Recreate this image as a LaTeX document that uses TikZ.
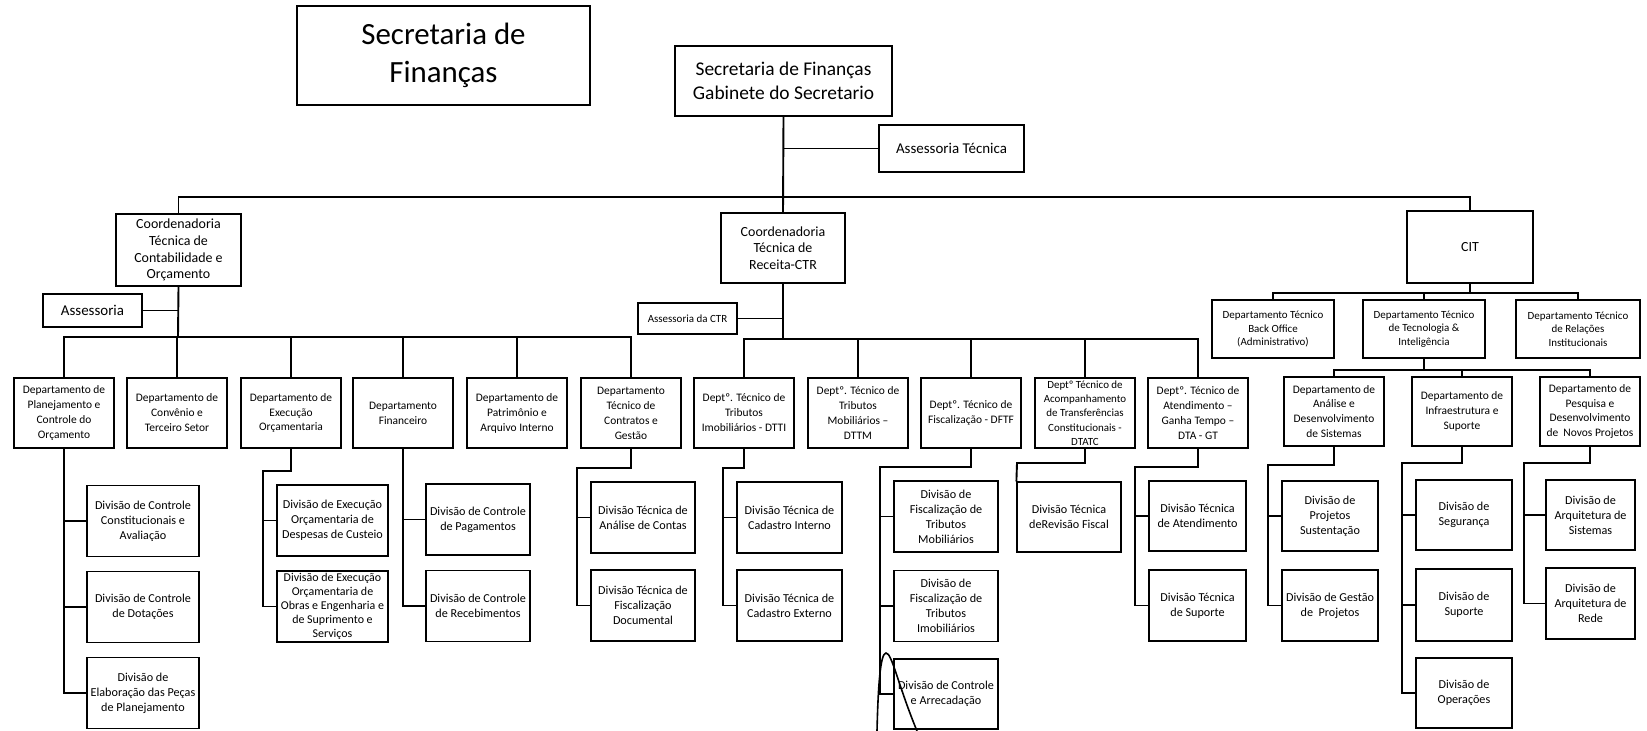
\documentclass[tikz,border=0pt]{standalone}
\usepackage{fontspec}
\setmainfont{Carlito}
\usepackage{tikz}

\begin{document}
\begin{tikzpicture}[x=1bp,y=-1bp,every text node part/.style={align=center},
box/.style={draw, fill=white, line width=1.2bp, inner sep=1bp},
coord/.style={box, font=\fontsize{14}{16.8}\selectfont},
dept/.style={box, minimum width=100bp, minimum height=70bp, font=\fontsize{11.5}{15}\selectfont},
cdept/.style={box, minimum width=122bp, minimum height=58bp, font=\fontsize{11}{13.5}\selectfont},
div/.style={box, minimum width=104bp, minimum height=71bp, font=\fontsize{12.2}{15}\selectfont},
link/.style={line width=1.9bp}]
\useasboundingbox (0,0) rectangle (1647,731);
\node[box, minimum width=293bp, minimum height=99bp, font=\fontsize{31}{38}\selectfont] (title) at (443.5,55.5) {Secretaria de\\Finanças};
\node[box, minimum width=217bp, minimum height=70bp, font=\fontsize{19.5}{23.5}\selectfont] (gab) at (783.5,81) {Secretaria de Finanças\\Gabinete do Secretario};
\node[box, minimum width=145bp, minimum height=47bp, font=\fontsize{15}{18}\selectfont] (asstec) at (951.5,148.5) {Assessoria Técnica};
\node[coord, minimum width=125bp, minimum height=72bp] (ctco) at (178.5,250) {Coordenadoria\\Técnica de\\Contabilidade e\\Orçamento};
\node[coord, minimum width=124bp, minimum height=70bp] (ctr) at (783,248) {Coordenadoria\\Técnica de\\Receita-CTR};
\node[coord, minimum width=126bp, minimum height=72bp] (cit) at (1470,247) {CIT};
\node[box, minimum width=99bp, minimum height=33bp, font=\fontsize{15}{18}\selectfont] (ass) at (92.5,310.5) {Assessoria};
\node[box, minimum width=99bp, minimum height=31bp, font=\fontsize{11}{13}\selectfont] (assctr) at (687.5,318.5) {Assessoria da CTR};
\node[dept] (d1) at (64,413) {Departamento de\\Planejamento e\\Controle do\\Orçamento};
\node[dept] (d2) at (177,413) {Departamento de\\Convênio e\\Terceiro Setor};
\node[dept] (d3) at (291,413) {Departamento de\\Execução\\Orçamentaria};
\node[dept] (d4) at (403,413) {Departamento\\Financeiro};
\node[dept] (d5) at (517,413) {Departamento de\\Patrimônio e\\Arquivo Interno};
\node[dept] (d6) at (631,413) {Departamento\\Técnico de\\Contratos e\\Gestão};
\node[dept] (d7) at (744,413) {Deptº. Técnico de\\Tributos\\Imobiliários - DTTI};
\node[dept] (d8) at (858,413) {Deptº. Técnico de\\Tributos\\Mobiliários –\\DTTM};
\node[dept] (d9) at (971,413) {Deptº. Técnico de\\Fiscalização - DFTF};
\node[dept, font=\fontsize{11}{14.4}\selectfont] (d10) at (1085,413) {Deptº Técnico de\\Acompanhamento\\de Transferências\\Constitucionais -\\DTATC};
\node[dept] (d11) at (1198,413) {Deptº. Técnico de\\Atendimento –\\Ganha Tempo –\\DTA - GT};
\node[cdept, minimum width=122bp] (c1) at (1273,329) {Departamento Técnico\\Back Office\\(Administrativo)};
\node[cdept] (c2) at (1424,329) {Departamento Técnico\\de Tecnologia \&\\Inteligência};
\node[cdept, minimum width=124bp] (c3) at (1578,329) {Departamento Técnico\\de Relações\\Institucionais};
\node[dept, minimum height=69bp] (t1) at (1334,411.5) {Departamento de\\Análise e\\Desenvolvimento\\de Sistemas};
\node[dept, minimum height=69bp] (t2) at (1462,411.5) {Departamento de\\Infraestrutura e\\Suporte};
\node[dept, minimum height=69bp] (t3) at (1590,411.5) {Departamento de\\Pesquisa e\\Desenvolvimento\\de~ Novos Projetos};
\node[div, minimum width=112bp] (p1) at (143,521) {Divisão de Controle\\Constitucionais e\\Avaliação};
\node[div, minimum width=112bp] (p2) at (143,607) {Divisão de Controle\\de Dotações};
\node[div, minimum width=112bp] (p3) at (143,693) {Divisão de\\Elaboração das Peças\\de Planejamento};
\node[div, minimum width=111bp] (e1) at (332.5,520.5) {Divisão de Execução\\Orçamentaria de\\Despesas de Custeio};
\node[div, minimum width=111bp, font=\fontsize{12}{14.2}\selectfont] (e2) at (332.5,606.5) {Divisão de Execução\\Orçamentaria de\\Obras e Engenharia e\\de Suprimento e\\Serviços};
\node[div] (f1) at (478,519.5) {Divisão de Controle\\de Pagamentos};
\node[div] (f2) at (478,606) {Divisão de Controle\\de Recebimentos};
\node[div] (g1) at (643,517.5) {Divisão Técnica de\\Análise de Contas};
\node[div] (g2) at (643,605.5) {Divisão Técnica de\\Fiscalização\\Documental};
\node[div, minimum width=105bp] (i1) at (789.5,517.5) {Divisão Técnica de\\Cadastro Interno};
\node[div, minimum width=105bp] (i2) at (789.5,605.5) {Divisão Técnica de\\Cadastro Externo};
\node[div] (fi1) at (946,516.5) {Divisão de\\Fiscalização de\\Tributos\\Mobiliários};
\node[div] (fi2) at (946,606) {Divisão de\\Fiscalização de\\Tributos\\Imobiliários};
\node[div, minimum height=70bp] (fi3) at (946,694) {Divisão de Controle\\e Arrecadação};
\node[div, minimum height=70bp] (a1) at (1069,517) {Divisão Técnica\\deRevisão Fiscal};
\node[div, minimum width=97bp, minimum height=70bp] (at1) at (1197.5,516) {Divisão Técnica\\de Atendimento};
\node[div, minimum width=97bp] (at2) at (1197.5,605.5) {Divisão Técnica\\de Suporte};
\node[div, minimum width=96bp, minimum height=70bp] (s1) at (1330,516) {Divisão de\\Projetos\\Sustentação};
\node[div, minimum width=96bp] (s2) at (1330,605.5) {Divisão de Gestão\\de~ Projetos};
\node[div, minimum width=96bp, minimum height=70bp] (u1) at (1464,515) {Divisão de\\Segurança};
\node[div, minimum width=96bp, minimum height=72bp] (u2) at (1464,605) {Divisão de\\Suporte};
\node[div, minimum width=96bp, minimum height=70bp] (u3) at (1464,693) {Divisão de\\Operações};
\node[div, minimum width=89bp, minimum height=70bp] (n1) at (1590.5,515) {Divisão de\\Arquitetura de\\Sistemas};
\node[div, minimum width=89bp] (n2) at (1590.5,603.5) {Divisão de\\Arquitetura de\\Rede};
\coordinate (topbus) at (783,197);
\coordinate (cbus) at (178,337);
\coordinate (rbus) at (783,339);
\coordinate (cbus2) at (1470,293);
\coordinate (tbus) at (1424,370);
\coordinate (ejog) at (263,471);
\coordinate (gjog) at (577,468);
\coordinate (ijog) at (723,468);
\coordinate (fjog) at (880,467);
\coordinate (ajog) at (1017,463);
\coordinate (atjog) at (1135,467);
\coordinate (sjog) at (1268,465);
\coordinate (ujog) at (1402,463);
\coordinate (njog) at (1524,463);
\draw[link] (ctco.north) |- (topbus) -| (cit.north);
\draw[link] (gab.south) -- (ctr.north);
\draw[link] (asstec.west) -- (asstec.west -| gab.south);
\draw[link] (ctco.south) -- (cbus);
\draw[link] (ass.east) -- (ass.east -| ctco.south);
\draw[link] (d1.north) |- (cbus) -| (d6.north);
\draw[link] (d2.north) -- (d2.north |- cbus);
\draw[link] (d3.north) -- (d3.north |- cbus);
\draw[link] (d4.north) -- (d4.north |- cbus);
\draw[link] (d5.north) -- (d5.north |- cbus);
\draw[link] (ctr.south) -- (rbus);
\draw[link] (assctr.east) -- (assctr.east -| ctr.south);
\draw[link] (d7.north) |- (rbus) -| (d11.north);
\draw[link] (d8.north) -- (d8.north |- rbus);
\draw[link] (d9.north) -- (d9.north |- rbus);
\draw[link] (d10.north) -- (d10.north |- rbus);
\draw[link] (cit.south) -- (cbus2);
\draw[link] (c1.north) |- (cbus2) -| (c3.north);
\draw[link] (c2.north) -- (c2.north |- cbus2);
\draw[link] (c2.south) -- (tbus);
\draw[link] (t1.north) |- (tbus) -| (t3.north);
\draw[link] (t2.north) -- (t2.north |- tbus);
\draw[link] (d1.south) |- (p3.west);
\draw[link] (p1.west) -- (p1.west -| d1.south);
\draw[link] (p2.west) -- (p2.west -| d1.south);
\draw[link] (d3.south) |- (ejog) |- (e2.west);
\draw[link] (e1.west) -- (e1.west -| ejog);
\draw[link] (d4.south) |- (f2.west);
\draw[link] (f1.west) -- (f1.west -| d4.south);
\draw[link] (d6.south) |- (gjog) |- (g2.west);
\draw[link] (g1.west) -- (g1.west -| gjog);
\draw[link] (d7.south) |- (ijog) |- (i2.west);
\draw[link] (i1.west) -- (i1.west -| ijog);
\draw[link] (d9.south) |- (fjog) |- (fi3.west);
\draw[link] (fi1.west) -- (fi1.west -| fjog);
\draw[link] (fi2.west) -- (fi2.west -| fjog);
\draw[link] (d10.south) |- (ajog) -- (a1.north west);
\draw[link] (d11.south) |- (atjog) |- (at2.west);
\draw[link] (at1.west) -- (at1.west -| atjog);
\draw[link] (t1.south) |- (sjog) |- (s2.west);
\draw[link] (s1.west) -- (s1.west -| sjog);
\draw[link] (t2.south) |- (ujog) |- (u3.west);
\draw[link] (u1.west) -- (u1.west -| ujog);
\draw[link] (u2.west) -- (u2.west -| ujog);
\draw[link] (t3.south) |- (njog) |- (n2.west);
\draw[link] (n1.west) -- (n1.west -| njog);
\draw[line width=1.6bp] (877,731) .. controls (878,690) and (880,653) .. (886,653) .. controls (892,653) and (898,685) .. (917,731);
\end{tikzpicture}
\end{document}
